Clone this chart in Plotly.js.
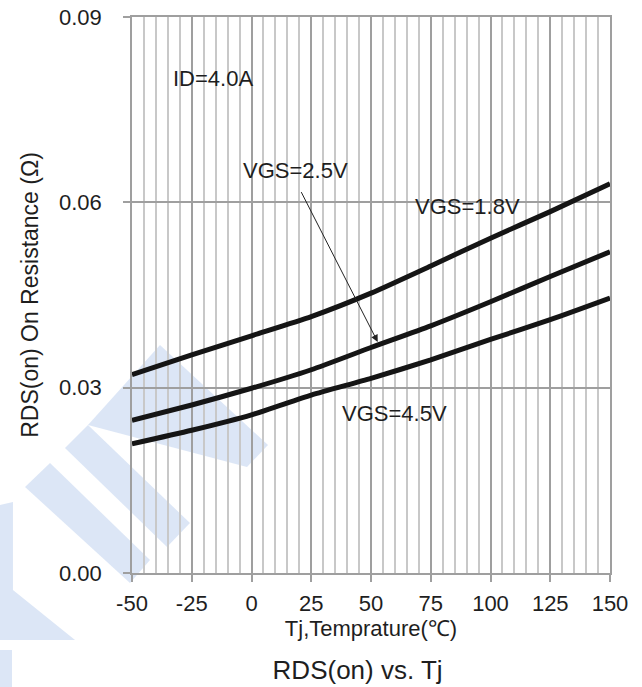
<!DOCTYPE html>
<html>
<head>
<meta charset="utf-8">
<script src="https://cdn.plot.ly/plotly-3.0.1.min.js"></script>
<style>html,body{margin:0;padding:0;background:#fff;}#chart{width:642px;height:687px;}</style>
</head>
<body>
<div id="chart"></div>
<script>
// Data
const tempC = [-50, -25, 0, 25, 50, 75, 100, 125, 150];
const rds_vgs18 = [0.0321, 0.0353, 0.0384, 0.0415, 0.0453, 0.0497, 0.0542, 0.0585, 0.0630];
const rds_vgs25 = [0.0247, 0.0272, 0.0299, 0.0329, 0.0365, 0.0400, 0.0439, 0.0480, 0.0520];
const rds_vgs45 = [0.0209, 0.0231, 0.0256, 0.0288, 0.0315, 0.0345, 0.0378, 0.0410, 0.0445];
const seriesNames = ['VGS=1.8V', 'VGS=2.5V', 'VGS=4.5V'];
const yTickVals = [0, 0.03, 0.06, 0.09];
const xTickVals = [-50, -25, 0, 25, 50, 75, 100, 125, 150];

const FONT = 'Liberation Sans, Arial, sans-serif';
const TXT = '#1e1e1e';
const lineStyle = {color: '#151515', width: 5, shape: 'spline', smoothing: 0.6};

const traces = [rds_vgs18, rds_vgs25, rds_vgs45].map((ys, i) => ({
  x: tempC, y: ys, type: 'scatter', mode: 'lines', name: seriesNames[i],
  line: lineStyle, hoverinfo: 'x+y+name'
}));

// Watermark polygons (pixel coords -> paper coords)
const L = 132, R = 610, T = 17, B = 573;
function px(pts) {
  return 'M ' + pts.map(p => ((p[0]-L)/(R-L)).toFixed(4) + ',' + ((B-p[1])/(B-T)).toFixed(4)).join(' L ') + ' Z';
}
const wmColor = 'rgba(214,226,245,0.85)';
const wmPolys = [
  [[160,345],[268,445],[247,467],[88,425]],
  [[88,425],[190,523],[167,547],[65,448]],
  [[50,463],[150,560],[130,583],[25,487]],
  [[0,505],[13,502],[13,590],[75,640],[0,640]],
  [[0,650],[12,650],[12,687],[0,687]]
];
const shapes = wmPolys.map(p => ({
  type: 'path', xref: 'paper', yref: 'paper', path: px(p),
  fillcolor: wmColor, line: {width: 0}, layer: 'below'
}));

const annFont = {family: FONT, size: 22, color: TXT};
const annotations = [
  {x: -16, y: 0.0801, xref: 'x', yref: 'y', text: 'ID=4.0A', showarrow: false, font: annFont},
  {x: 18.5, y: 0.0652, xref: 'x', yref: 'y', text: 'VGS=2.5V', showarrow: false, font: annFont},
  {x: 90.5, y: 0.0594, xref: 'x', yref: 'y', text: 'VGS=1.8V', showarrow: false, font: annFont},
  {x: 60, y: 0.0259, xref: 'x', yref: 'y', text: 'VGS=4.5V', showarrow: false, font: annFont},
  {x: 52.8, y: 0.0374, ax: 20.5, ay: 0.0619, xref: 'x', yref: 'y', axref: 'x', ayref: 'y',
   text: '', showarrow: true, arrowhead: 2, arrowsize: 1.4, arrowwidth: 1, arrowcolor: '#222'}
];

const layout = {
  width: 642, height: 687,
  margin: {l: 132, r: 32, t: 17, b: 114},
  paper_bgcolor: '#ffffff',
  plot_bgcolor: 'rgba(0,0,0,0)',
  showlegend: false,
  font: {family: FONT, color: TXT},
  title: {text: 'RDS(on) vs. Tj', font: {family: FONT, size: 26, color: TXT},
          x: 0.557, xanchor: 'center', y: 0.025, yanchor: 'middle', yref: 'container'},
  xaxis: {
    range: [-50, 150], tickvals: xTickVals, ticktext: xTickVals.map(String),
    showgrid: true, gridcolor: '#9f9f9f', gridwidth: 1.5,
    minor: {dtick: 5, showgrid: true, gridcolor: '#c8c8c8', gridwidth: 1.5, ticks: ''},
    ticks: 'outside', ticklen: 7, tickcolor: '#9f9f9f', tickwidth: 1.5,
    showline: true, linecolor: '#9f9f9f', linewidth: 1.5, mirror: true,
    zeroline: false, ticklabelstandoff: 3,
    tickfont: {family: FONT, size: 22, color: TXT},
    title: {text: 'Tj,Temprature(℃)', font: {family: FONT, size: 22, color: TXT}, standoff: 5}
  },
  yaxis: {
    range: [0, 0.09], tickvals: yTickVals, tickformat: '.2f',
    showgrid: true, gridcolor: '#9f9f9f', gridwidth: 1.5,
    ticks: 'outside', ticklen: 7, tickcolor: '#9f9f9f', tickwidth: 1.5,
    showline: true, linecolor: '#9f9f9f', linewidth: 1.5, mirror: true,
    zeroline: false, ticklabelstandoff: 17,
    tickfont: {family: FONT, size: 22, color: TXT},
    title: {text: 'RDS(on) On Resistance (Ω)', font: {family: FONT, size: 23, color: TXT}, standoff: 14}
  },
  shapes: shapes,
  annotations: annotations
};

Plotly.newPlot('chart', traces, layout, {displayModeBar: false, staticPlot: false});
</script>
</body>
</html>
